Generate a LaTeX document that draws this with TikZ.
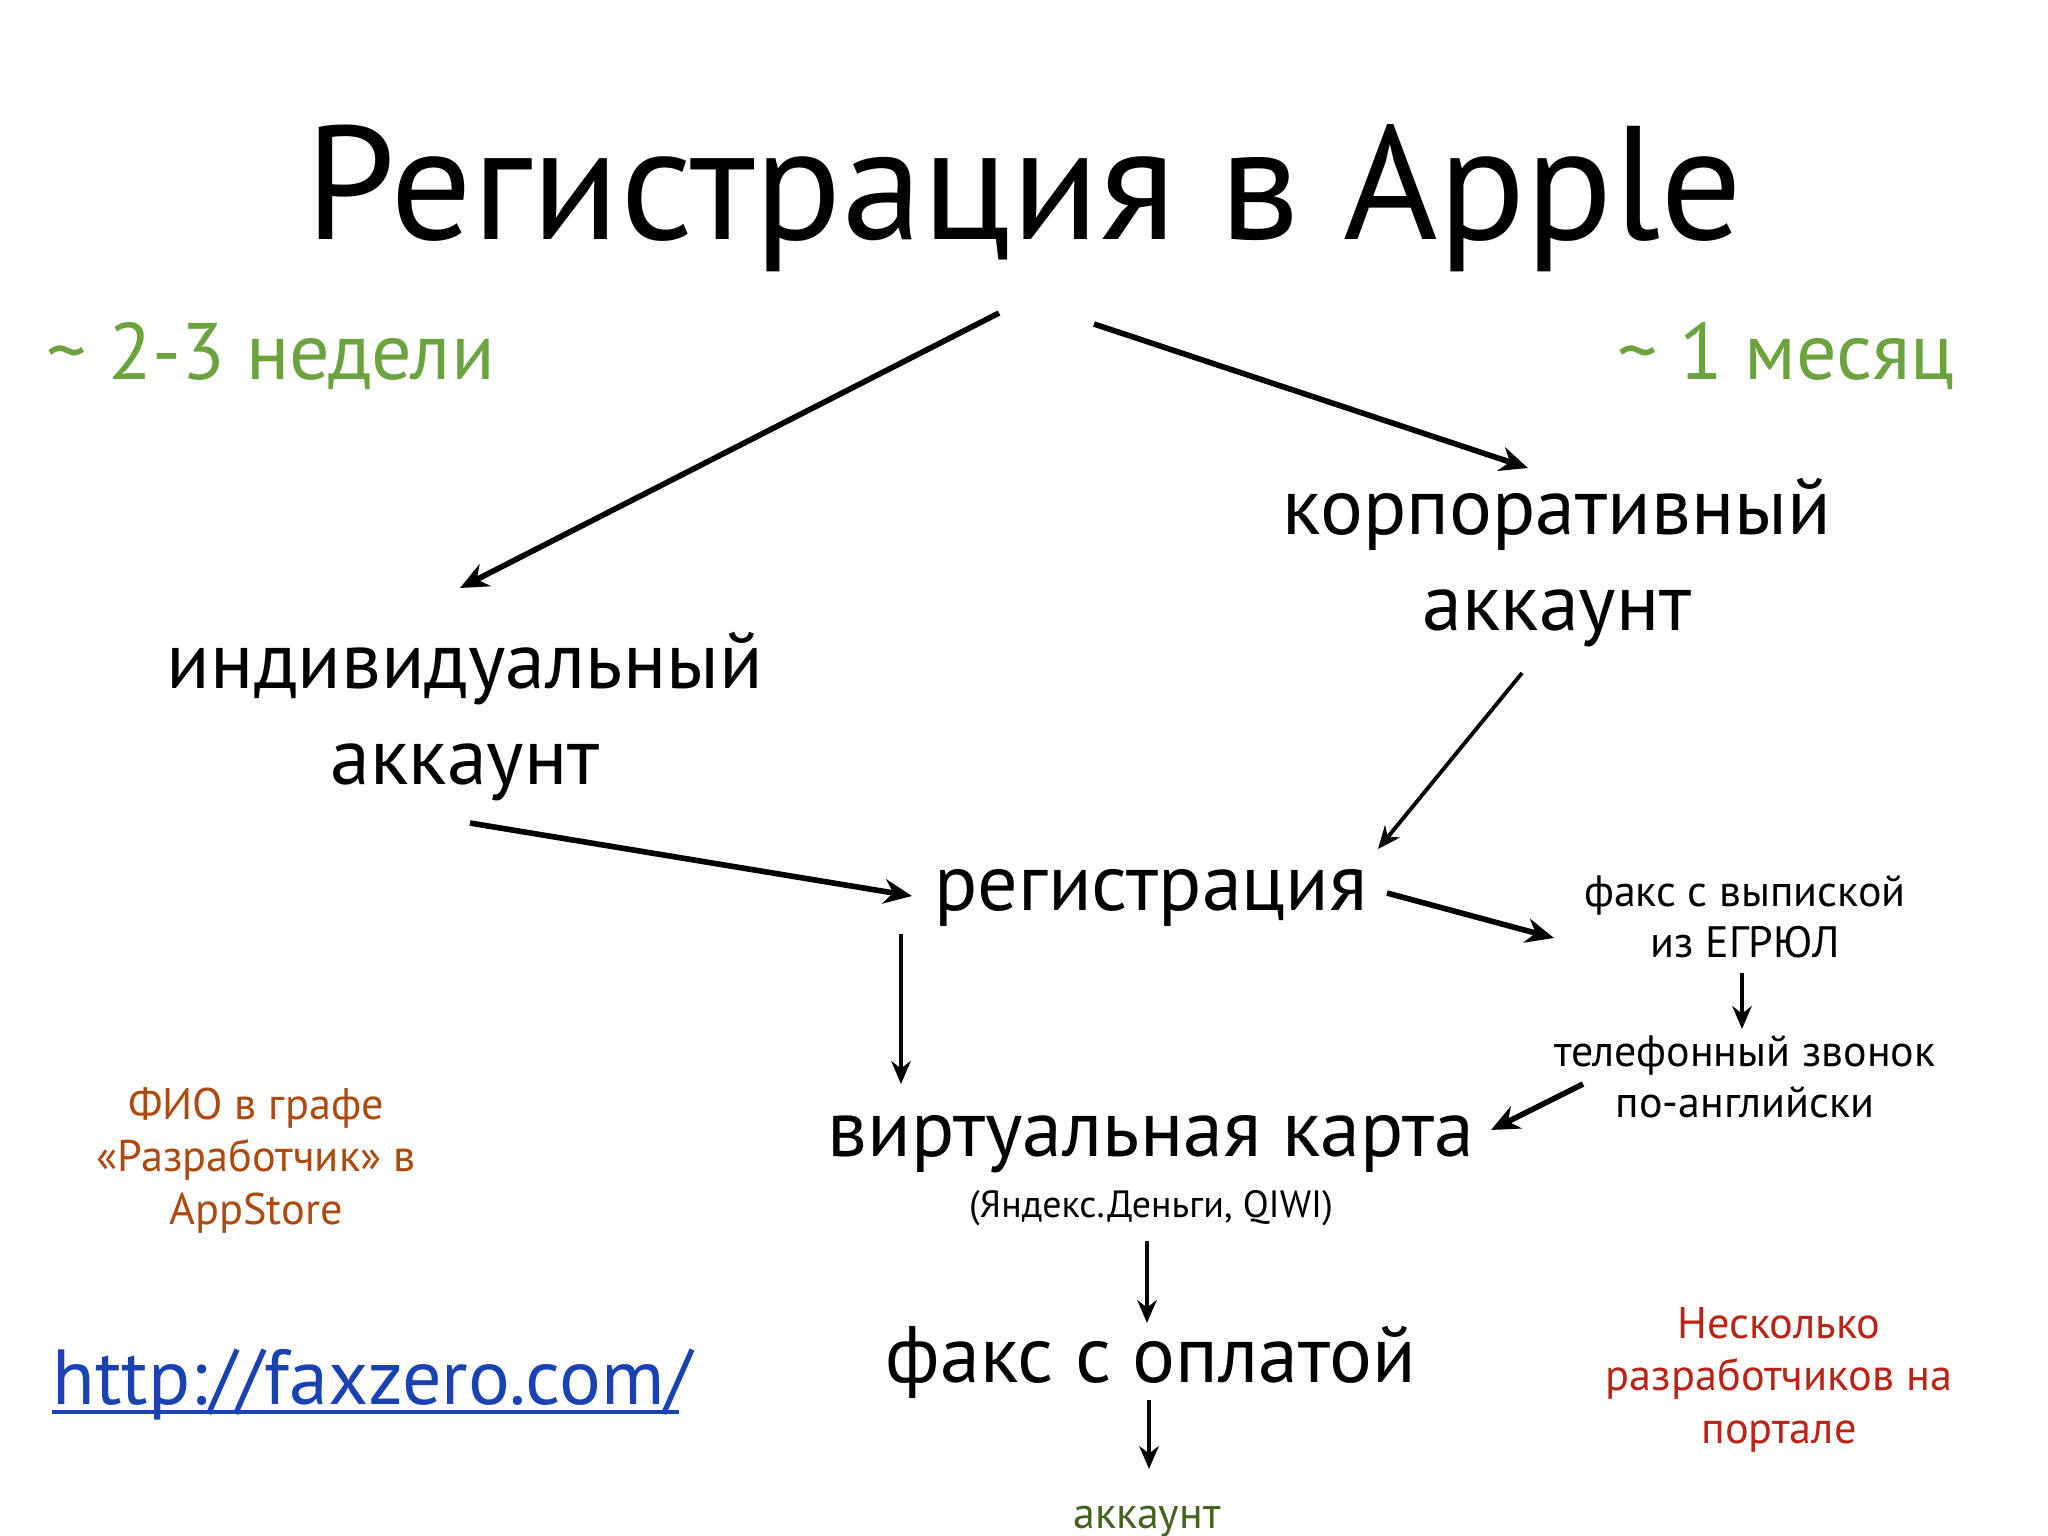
\documentclass[tikz,border=0pt]{standalone}
\usepackage{fontspec}
\setmainfont{PT Sans}
\usetikzlibrary{arrows.meta}
\definecolor{ColGreen}{RGB}{108,163,62}
\definecolor{ColDarkGreen}{RGB}{70,100,32}
\definecolor{ColBrown}{RGB}{172,74,16}
\definecolor{ColRed}{RGB}{186,36,22}
\definecolor{ColBlue}{RGB}{26,66,176}
\tikzstyle{TitleText}=[anchor=base,inner sep=0pt,font=\fontsize{46}{50}\selectfont]
\tikzstyle{MainText}=[anchor=base,inner sep=0pt,align=center,font=\fontsize{22.8}{27.3}\selectfont]
\tikzstyle{SmallText}=[anchor=base,inner sep=0pt,align=center,font=\fontsize{12.5}{14.5}\selectfont]
\tikzstyle{NoteText}=[anchor=base,inner sep=0pt,align=center,font=\fontsize{12.6}{14.8}\selectfont]
\tikzstyle{FlowArrow}=[-{Stealth[length=8pt,width=7pt]},line width=1.6pt]
\tikzstyle{ThinArrow}=[-{Stealth[length=6.5pt,width=5.5pt]},line width=1.1pt]

\begin{document}
\begin{tikzpicture}[x=0.01cm,y=-0.01cm]
        \useasboundingbox[fill=white](0,0)rectangle(2048,1536);
        \node[TitleText](title)at(1024,239){Регистрация в Apple};
        \node[MainText,anchor=base west,text=ColGreen](weeks)at(46,379){\textasciitilde{} 2-3 недели};
        \node[MainText,anchor=base east,text=ColGreen](month)at(1955,379){\textasciitilde{} 1 месяц};
        % multi-line nodes sit on their last line
        \node[MainText](indiv)at(465,784){индивидуальный\\аккаунт};
        \node[MainText](corp)at(1557,630){корпоративный\\аккаунт};
        \node[MainText](reg)at(1151,910){регистрация};
        \node[SmallText](egrul)at(1745,957){факс с выпиской\\из ЕГРЮЛ};
        \node[SmallText](phone)at(1745,1117){телефонный звонок\\по-английски};
        \node[MainText](virt)at(1151,1156){виртуальная карта};
        \node[SmallText,font=\fontsize{10.8}{12}\selectfont](money)at(1151,1217){(Яндекс.Деньги, QIWI)};
        \node[MainText](faxpay)at(1151,1382){факс с оплатой};
        \node[SmallText,text=ColDarkGreen](acc)at(1147,1528){аккаунт};
        \node[NoteText,text=ColBrown](fio)at(256,1224){ФИО в графе\\«Разработчик» в\\AppStore};
        \node[NoteText,text=ColRed](several)at(1779,1443){Несколько\\разработчиков на\\портале};
        \node[MainText,anchor=base west,text=ColBlue,font=\fontsize{22.2}{26}\selectfont](url)at(52,1404){http://faxzero.com/};
        \draw[ColBlue,line width=1.2pt]([shift={(0,8)}]url.base west)--([shift={(-14,8)}]url.base east);
        % arrows
        \draw[FlowArrow]([shift={(-25,74)}]title.base)--([shift={(-5,-196)}]indiv.base);
        \draw[FlowArrow]([shift={(70,85)}]title.base)--([shift={(-29,-162)}]corp.base);
        \draw[ThinArrow]([shift={(-35,43)}]corp.base)--([shift={(227,-61)}]reg.base);
        \draw[FlowArrow]([shift={(5,39)}]indiv.base)--([shift={(-239,-14)}]reg.base);
        \draw[FlowArrow]([shift={(236,-17)}]reg.base)--([shift={(-191,-19)}]egrul.base);
        \draw[ThinArrow]([shift={(-250,24)}]reg.base)--([shift={(-250,-72)}]virt.base);
        \draw[ThinArrow]([shift={(-3,16)}]egrul.base)--([shift={(-3,-88)}]phone.base);
        \draw[FlowArrow]([shift={(-162,-33)}]phone.base)--([shift={(340,-26)}]virt.base);
        \draw[ThinArrow]([shift={(-4,24)}]money.base)--([shift={(-4,-59)}]faxpay.base);
        \draw[ThinArrow]([shift={(-2,18)}]faxpay.base)--([shift={(2,-59)}]acc.base);
    \end{tikzpicture}
\end{document}
